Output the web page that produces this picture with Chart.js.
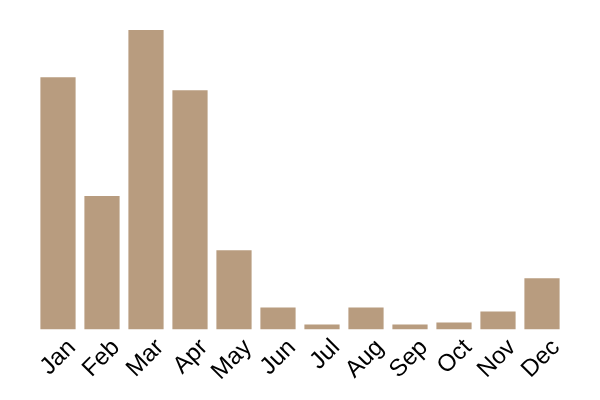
<!DOCTYPE html>
<html>
<head>
<meta charset="utf-8">
<script src="https://cdn.jsdelivr.net/npm/chart.js@4/dist/chart.umd.min.js"></script>
<style>
  html, body { margin: 0; padding: 0; background: #fff; }
  #wrap { width: 600px; height: 400px; }
</style>
</head>
<body>
<div id="wrap"><canvas id="grafico"></canvas></div>
<script>
var meses = ['Jan', 'Feb', 'Mar', 'Apr', 'May', 'Jun', 'Jul', 'Aug', 'Sep', 'Oct', 'Nov', 'Dec'];
var valores = [25.1, 13.3, 29.8, 23.8, 7.9, 2.2, 0.5, 2.2, 0.5, 0.7, 1.8, 5.1];
var corBarra = '#b89c7f';

var configGrafico = {
    type: 'bar',
    data: {
        labels: meses,
        datasets: [{
            data: valores,
            backgroundColor: corBarra,
            borderWidth: 0,
            barPercentage: 1,
            categoryPercentage: 0.8
        }]
    },
    options: {
        responsive: true,
        maintainAspectRatio: false,
        animation: false,
        layout: { padding: { top: 28, left: 36, right: 36, bottom: 10 } },
        plugins: {
            legend: { display: false },
            tooltip: { enabled: false }
        },
        scales: {
            x: {
                grid: { display: false, drawTicks: false },
                border: { display: false },
                ticks: {
                    color: '#000',
                    font: { family: 'Liberation Sans', size: 24 },
                    autoSkip: false,
                    minRotation: 45,
                    maxRotation: 45,
                    labelOffset: 14,
                    padding: 4
                }
            },
            y: {
                display: false,
                min: 0,
                max: 30
            }
        }
    }
};

new Chart(document.getElementById('grafico').getContext('2d'), configGrafico);
</script>
</body>
</html>
